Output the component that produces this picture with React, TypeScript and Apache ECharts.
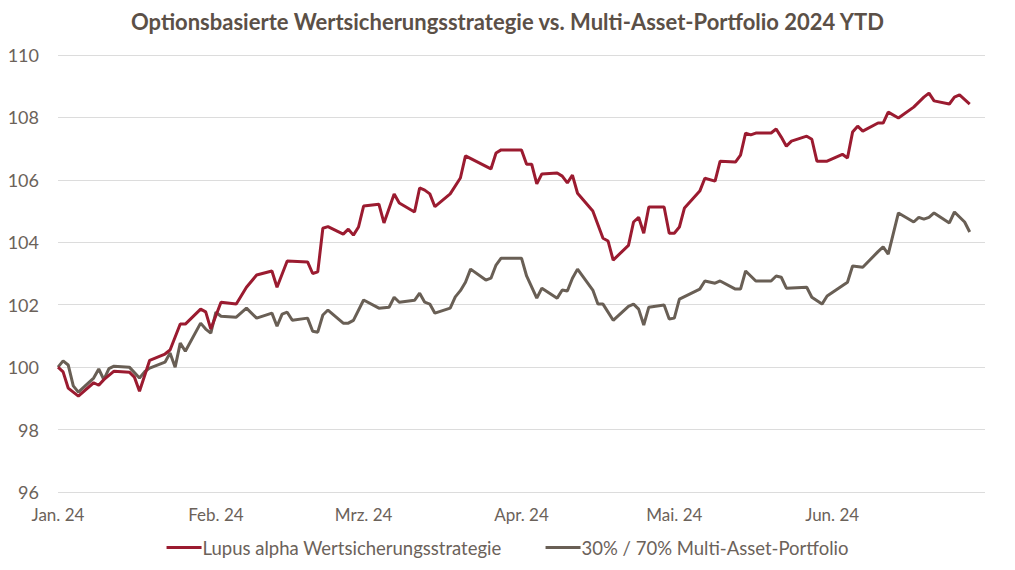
import React, { useEffect, useRef } from "react";
import * as echarts from "echarts";

const TITLE = "Optionsbasierte Wertsicherungsstrategie vs. Multi-Asset-Portfolio 2024 YTD";
const SERIES_NAMES = ["Lupus alpha Wertsicherungsstrategie", "30% / 70% Multi-Asset-Portfolio"];
const MONTH_LABELS = ["Jan. 24", "Feb. 24", "Mrz. 24", "Apr. 24", "Mai. 24", "Jun. 24"];
const Y_TICKS = [96, 98, 100, 102, 104, 106, 108, 110];

const redDates = [
  "01-01","01-02","01-03","01-05","01-08","01-09","01-10","01-12","01-15","01-16","01-17","01-19",
  "01-22","01-23","01-25","01-26","01-29","01-30","01-31","02-02","02-05","02-07","02-09","02-12",
  "02-13","02-15","02-19","02-20","02-21","02-22","02-23","02-26","02-27","02-28","02-29","03-01",
  "03-04","03-05","03-07","03-08","03-11","03-12","03-13","03-14","03-15","03-18","03-20","03-21",
  "03-26","03-27","03-28","04-01","04-02","04-03","04-04","04-05","04-08","04-09","04-10","04-11",
  "04-12","04-15","04-17","04-18","04-19","04-22","04-23","04-24","04-25","04-26","04-29","04-30",
  "05-01","05-02","05-03","05-06","05-07","05-09","05-10","05-13","05-14","05-15","05-16","05-17",
  "05-20","05-21","05-22","05-23","05-24","05-27","05-28","05-29","05-31","06-03","06-04","06-05",
  "06-06","06-07","06-10","06-11","06-12","06-14","06-17","06-19","06-20","06-21","06-24","06-25",
  "06-26","06-28",
];
const redValues = [
  100.0, 99.85, 99.33, 99.07, 99.5, 99.42, 99.6, 99.87, 99.84, 99.68, 99.23, 100.22,
  100.42, 100.55, 101.38, 101.38, 101.86, 101.77, 101.22, 102.08, 102.02, 102.56, 102.95, 103.08,
  102.56, 103.4, 103.37, 103.0, 103.05, 104.45, 104.5, 104.26, 104.42, 104.23, 104.49, 105.16,
  105.22, 104.62, 105.55, 105.26, 104.97, 105.74, 105.67, 105.55, 105.14, 105.55, 106.06, 106.77,
  106.35, 106.86, 106.96, 106.96, 106.5, 106.5, 105.87, 106.19, 106.22, 106.12, 105.9, 106.15,
  105.57, 105.0, 104.13, 104.04, 103.43, 103.9, 104.65, 104.8, 104.29, 105.13, 105.13, 104.29,
  104.29, 104.49, 105.1, 105.64, 106.05, 105.96, 106.6, 106.57, 106.79, 107.5, 107.44, 107.5,
  107.5, 107.63, 107.37, 107.08, 107.24, 107.4, 107.3, 106.6, 106.6, 106.82, 106.7, 107.53,
  107.72, 107.56, 107.82, 107.82, 108.17, 107.98, 108.33, 108.65, 108.78, 108.53, 108.43, 108.65,
  108.72, 108.43,
];

const grayDates = [
  "01-01","01-02","01-03","01-04","01-05","01-08","01-09","01-10","01-11","01-12","01-15","01-17",
  "01-18","01-19","01-22","01-23","01-24","01-25","01-26","01-29","01-30","01-31","02-01","02-02",
  "02-05","02-07","02-09","02-12","02-13","02-14","02-15","02-16","02-19","02-20","02-21","02-22",
  "02-23","02-26","02-27","02-28","03-01","03-04","03-06","03-07","03-08","03-11","03-12","03-13",
  "03-14","03-15","03-18","03-19","03-20","03-21","03-22","03-25","03-26","03-27","03-28","04-01",
  "04-02","04-04","04-05","04-08","04-09","04-10","04-11","04-12","04-15","04-16","04-17","04-19",
  "04-22","04-23","04-24","04-25","04-26","04-29","04-30","05-01","05-02","05-06","05-07","05-09",
  "05-10","05-13","05-14","05-15","05-17","05-20","05-21","05-22","05-23","05-27","05-28","05-30",
  "05-31","06-04","06-05","06-07","06-10","06-11","06-12","06-14","06-17","06-18","06-19","06-20",
  "06-21","06-24","06-25","06-27","06-28",
];
const grayValues = [
  100.0, 100.2, 100.07, 99.4, 99.2, 99.65, 99.94, 99.6, 99.95, 100.03, 100.0, 99.65,
  99.85, 99.97, 100.16, 100.45, 100.0, 100.77, 100.51, 101.41, 101.22, 101.09, 101.76, 101.63,
  101.6, 101.89, 101.57, 101.73, 101.31, 101.7, 101.76, 101.5, 101.57, 101.15, 101.12, 101.67,
  101.83, 101.41, 101.41, 101.5, 102.15, 101.89, 101.92, 102.24, 102.08, 102.14, 102.37, 102.08,
  102.02, 101.73, 101.89, 102.25, 102.45, 102.72, 103.14, 102.79, 102.85, 103.27, 103.49, 103.49,
  102.92, 102.21, 102.53, 102.21, 102.47, 102.44, 102.85, 103.14, 102.47, 102.02, 102.02, 101.5,
  101.95, 102.02, 101.86, 101.35, 101.92, 101.99, 101.54, 101.57, 102.18, 102.5, 102.76, 102.69,
  102.76, 102.5, 102.5, 103.08, 102.76, 102.76, 102.92, 102.88, 102.53, 102.56, 102.24, 102.02,
  102.28, 102.72, 103.24, 103.2, 103.7, 103.85, 103.62, 104.94, 104.65, 104.8, 104.74, 104.8,
  104.94, 104.62, 104.97, 104.65, 104.33,
];

const YEAR = 2024;
const DAY_MS = 86400000;
const START = Date.UTC(YEAR, 0, 1);
const END = Date.UTC(YEAR, 6, 1);

function dayIndex(md: string): number {
  const [m, d] = md.split("-").map(Number);
  return Math.round((Date.UTC(YEAR, m - 1, d) - START) / DAY_MS);
}

function buildCategories(): string[] {
  const out: string[] = [];
  for (let t = START; t <= END; t += DAY_MS) {
    out.push(new Date(t).toISOString().slice(0, 10));
  }
  return out;
}

const FONT = "Lato, 'Noto Sans', sans-serif";
const TEXT_COLOR = "#6b625a";
const RED = "#9b1b30";
const GRAY = "#695f55";

export default function App() {
  const ref = useRef<HTMLDivElement>(null);
  useEffect(() => {
    if (!ref.current) return;
    const chart = echarts.init(ref.current, undefined, { renderer: "svg" });
    const categories = buildCategories();
    const isMonthStart = (v: string) => {
      const m = Number(v.slice(5, 7));
      return v.slice(8, 10) === "01" && m <= MONTH_LABELS.length;
    };
    chart.setOption({
      animation: false,
      backgroundColor: "#ffffff",
      textStyle: { fontFamily: FONT },
      title: {
        text: TITLE,
        left: "center",
        top: 5,
        textStyle: { fontFamily: FONT, fontSize: 22, fontWeight: "bold", color: "#5b5047" },
      },
      legend: {
        bottom: 8,
        left: "center",
        icon: "rect",
        itemWidth: 35,
        itemHeight: 3,
        itemGap: 44,
        textStyle: { fontFamily: FONT, fontSize: 18.5, color: TEXT_COLOR, padding: [0, 0, 0, -4] },
        data: SERIES_NAMES,
      },
      grid: { left: 58, right: 30, top: 55, bottom: 78, containLabel: false },
      xAxis: {
        type: "category",
        data: categories,
        boundaryGap: false,
        axisLine: { show: false },
        axisTick: { show: false },
        splitLine: { show: false },
        axisLabel: {
          interval: (_i: number, v: string) => isMonthStart(v),
          formatter: (v: string) => (isMonthStart(v) ? MONTH_LABELS[Number(v.slice(5, 7)) - 1] : ""),
          color: TEXT_COLOR,
          fontFamily: FONT,
          fontSize: 17,
          margin: 14,
        },
      },
      yAxis: {
        type: "value",
        min: Y_TICKS[0],
        max: Y_TICKS[Y_TICKS.length - 1],
        interval: 2,
        axisLine: { show: false },
        axisTick: { show: false },
        splitLine: { lineStyle: { color: "#dcdcdc", width: 1 } },
        axisLabel: { color: TEXT_COLOR, fontFamily: FONT, fontSize: 18, margin: 19 },
      },
      series: [
        {
          name: SERIES_NAMES[0],
          type: "line",
          data: redDates.map((d, i) => [dayIndex(d), redValues[i]]),
          showSymbol: false,
          symbol: "none",
          lineStyle: { color: RED, width: 3 },
          itemStyle: { color: RED },
          z: 3,
        },
        {
          name: SERIES_NAMES[1],
          type: "line",
          data: grayDates.map((d, i) => [dayIndex(d), grayValues[i]]),
          showSymbol: false,
          symbol: "none",
          lineStyle: { color: GRAY, width: 3 },
          itemStyle: { color: GRAY },
          z: 2,
        },
      ],
    });
    return () => chart.dispose();
  }, []);
  return (
    <div
      ref={ref}
      style={{ position: "absolute", left: 0, top: 0, width: 1015, height: 570 }}
    />
  );
}
